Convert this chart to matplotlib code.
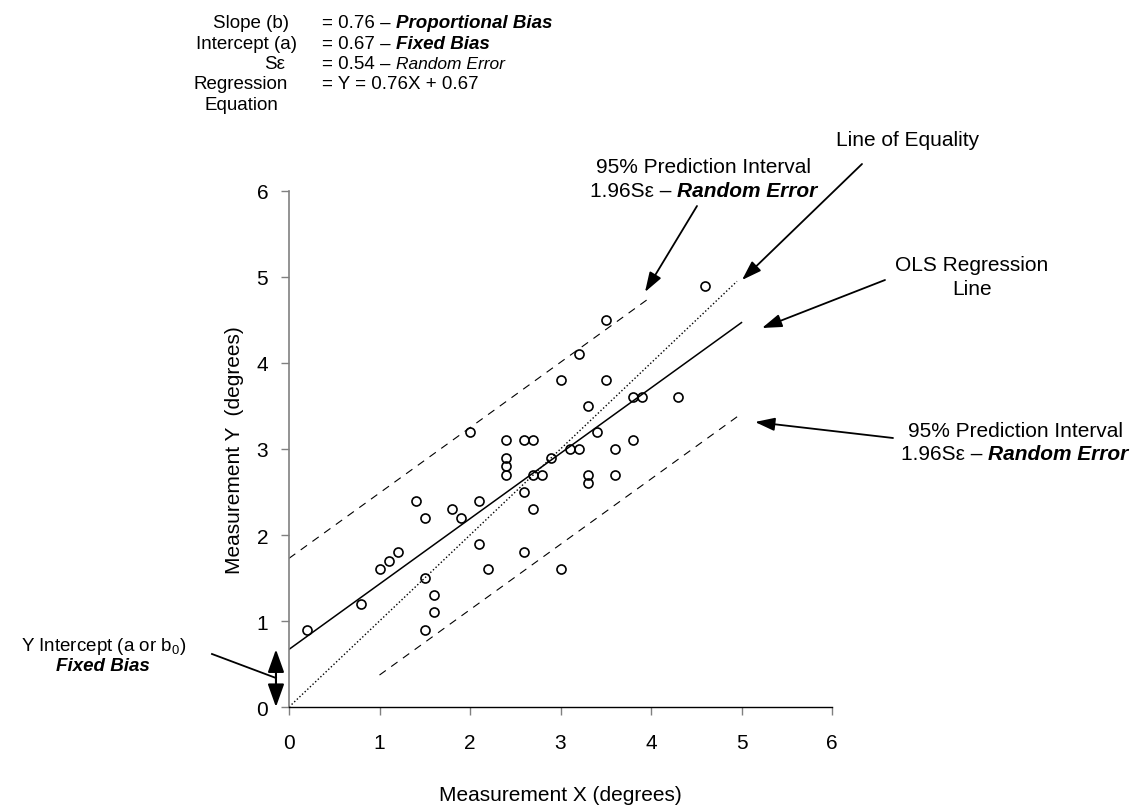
import numpy as np
import matplotlib.pyplot as plt

plt.rcParams['font.family'] = ['Liberation Sans', 'DejaVu Sans']
plt.rcParams['mathtext.fontset'] = 'custom'
plt.rcParams['mathtext.rm'] = 'Liberation Sans'
plt.rcParams['mathtext.it'] = 'Liberation Sans:italic'

# paired measurements
x_meas = [0.2, 0.8, 1.0, 1.1, 1.2, 1.4, 1.5, 1.5, 1.5, 1.6, 1.6, 1.8, 1.9, 2.0,
          2.1, 2.1, 2.2, 2.4, 2.4, 2.4, 2.4, 2.6, 2.6, 2.6, 2.7, 2.7, 2.7, 2.8,
          2.9, 3.0, 3.0, 3.1, 3.2, 3.2, 3.3, 3.3, 3.3, 3.4, 3.5, 3.5, 3.6, 3.6,
          3.8, 3.8, 3.9, 4.3, 4.6]
y_meas = [0.9, 1.2, 1.6, 1.7, 1.8, 2.4, 2.2, 1.5, 0.9, 1.3, 1.1, 2.3, 2.2, 3.2,
          2.4, 1.9, 1.6, 3.1, 2.9, 2.8, 2.7, 3.1, 2.5, 1.8, 3.1, 2.7, 2.3, 2.7,
          2.9, 3.8, 1.6, 3.0, 3.0, 4.1, 3.5, 2.7, 2.6, 3.2, 4.5, 3.8, 3.0, 2.7,
          3.6, 3.1, 3.6, 3.6, 4.9]

slope = 0.76
intercept = 0.67
s_err = 0.54
pi_half = 1.96 * s_err

W, H = 1133, 812
fig = plt.figure(figsize=(W / 100, H / 100), dpi=100)
ax = fig.add_axes([289 / W, 1 - 708 / H, 543 / W, 516 / H])

grey = '#808080'
dash = (0, (7, 6))

# regression, equality and prediction interval lines
xr = np.array([0, 5])
ax.plot(xr, slope * xr + intercept, color='black', lw=1.1)
ax.plot([0, 4.95], [0, 4.95], color='black', lw=1.0, ls=(0, (1, 1.6)))
xu = np.array([0, 4])
ax.plot(xu, slope * xu + intercept + pi_half, color='black', lw=0.8, ls=dash)
xl = np.array([1, 5])
ax.plot(xl, slope * xl + intercept - pi_half, color='black', lw=0.8, ls=dash)

ax.plot(x_meas, y_meas, 'o', mfc='none', mec='black', ms=6.5, mew=1.2, ls='none', zorder=3)

ax.set_xlim(0, 6)
ax.set_ylim(0, 6)
ax.set_xticks(range(7))
ax.set_yticks(range(7))
ax.spines[['top', 'right']].set_visible(False)
ax.spines['left'].set_color(grey)
ax.spines['left'].set_linewidth(1.2)
ax.spines['bottom'].set_color('black')
ax.spines['bottom'].set_linewidth(1.0)
ax.tick_params(direction='out', length=6, width=1, color=grey, labelsize=15)
ax.tick_params(axis='x', pad=13)
ax.tick_params(axis='y', pad=9)


def fx(x):
    return x / W


def fy(y):
    # pixel rows counted from the top
    return 1 - y / H


fig.text(fx(560), fy(796), 'Measurement X (degrees)', fontsize=15, ha='center', va='center')
fig.text(fx(234), fy(450), 'Measurement Y  (degrees)', fontsize=15, ha='center', va='center',
         rotation=90)

renderer = fig.canvas.get_renderer()


def text_width(s, **kw):
    t = fig.text(0, 0, s + '|', **kw)
    w1 = t.get_window_extent(renderer).width
    t.set_text('|')
    w2 = t.get_window_extent(renderer).width
    t.remove()
    return w1 - w2


def rich(x, y, parts, ha='left', size=15):
    # parts: (string, style[, size]) where style may hold 'b' and/or 'i'
    pieces = []
    for s, style, *sz in parts:
        kw = dict(fontsize=sz[0] if sz else size,
                  fontweight='bold' if 'b' in style else 'normal',
                  fontstyle='italic' if 'i' in style else 'normal')
        pieces.append((s, kw, text_width(s, **kw)))
    total = sum(p[2] for p in pieces)
    x0 = x - {'left': 0, 'center': total / 2, 'right': total}[ha]
    for s, kw, w in pieces:
        fig.text(fx(x0), fy(y), s, va='baseline', ha='left', **kw)
        x0 += w


# summary block
top = 13.5
rich(251, 28, [('Slope (b)', '')], ha='center', size=top)
rich(246, 49, [('Intercept (a)', '')], ha='center', size=top)
rich(275, 69, [('Sε', '')], ha='center', size=top)
rich(241, 89, [('Regression', '')], ha='center', size=top)
rich(241, 110, [('Equation', '')], ha='center', size=top)
rich(322, 28, [(f'= {slope:.2f} – ', ''), ('Proportional Bias', 'bi')], size=top)
rich(322, 49, [(f'= {intercept:.2f} – ', ''), ('Fixed Bias', 'bi')], size=top)
rich(322, 69, [(f'= {s_err:.2f} – ', ''), ('Random Error', 'i', 12.5)], size=top)
rich(322, 89, [(f'= Y = {slope:.2f}X + {intercept:.2f}', '')], size=top)

# callouts
rich(704, 173, [('95% Prediction Interval', '')], ha='center')
rich(704, 197, [('1.96Sε – ', ''), ('Random Error', 'bi')], ha='center')
rich(908, 146, [('Line of Equality', '')], ha='center')
rich(972, 271, [('OLS Regression', '')], ha='center')
rich(972, 295, [('Line', '')], ha='center')
rich(1015, 437, [('95% Prediction Interval', '')], ha='center')
rich(1015, 460, [('1.96Sε – ', ''), ('Random Error', 'bi')], ha='center')
rich(103, 651, [('Y Intercept (a or b$_0$)', '')], ha='center', size=13.5)
rich(103, 671, [('Fixed Bias', 'bi')], ha='center', size=13.5)

arrow = dict(arrowstyle='-|>,head_length=0.6,head_width=0.2', color='black', lw=1.3,
             mutation_scale=20, shrinkA=0, shrinkB=0)
for (tx, ty), (hx, hy) in [((697, 207), (645, 293)),
                           ((862, 165), (742, 281)),
                           ((885, 281), (762, 329)),
                           ((893, 439), (755, 423))]:
    ax.annotate('', xy=(fx(hx), fy(hy)), xycoords='figure fraction',
                xytext=(fx(tx), fy(ty)), textcoords='figure fraction',
                arrowprops=arrow, annotation_clip=False)

# intercept marker: double arrow from 0 to the intercept, left of the axis
ax.annotate('', xy=(-0.024, intercept), xytext=(-0.024, 0),
            xycoords=('axes fraction', 'data'), textcoords=('axes fraction', 'data'),
            arrowprops=dict(arrowstyle='<|-|>,head_length=0.7,head_width=0.25',
                            color='black', lw=1.5, mutation_scale=20,
                            shrinkA=0, shrinkB=0),
            annotation_clip=False)
fig.add_artist(plt.Line2D([fx(212), fx(276)], [fy(655), fy(679)], color='black', lw=1.3))

fig.savefig('out.png', dpi=100)
